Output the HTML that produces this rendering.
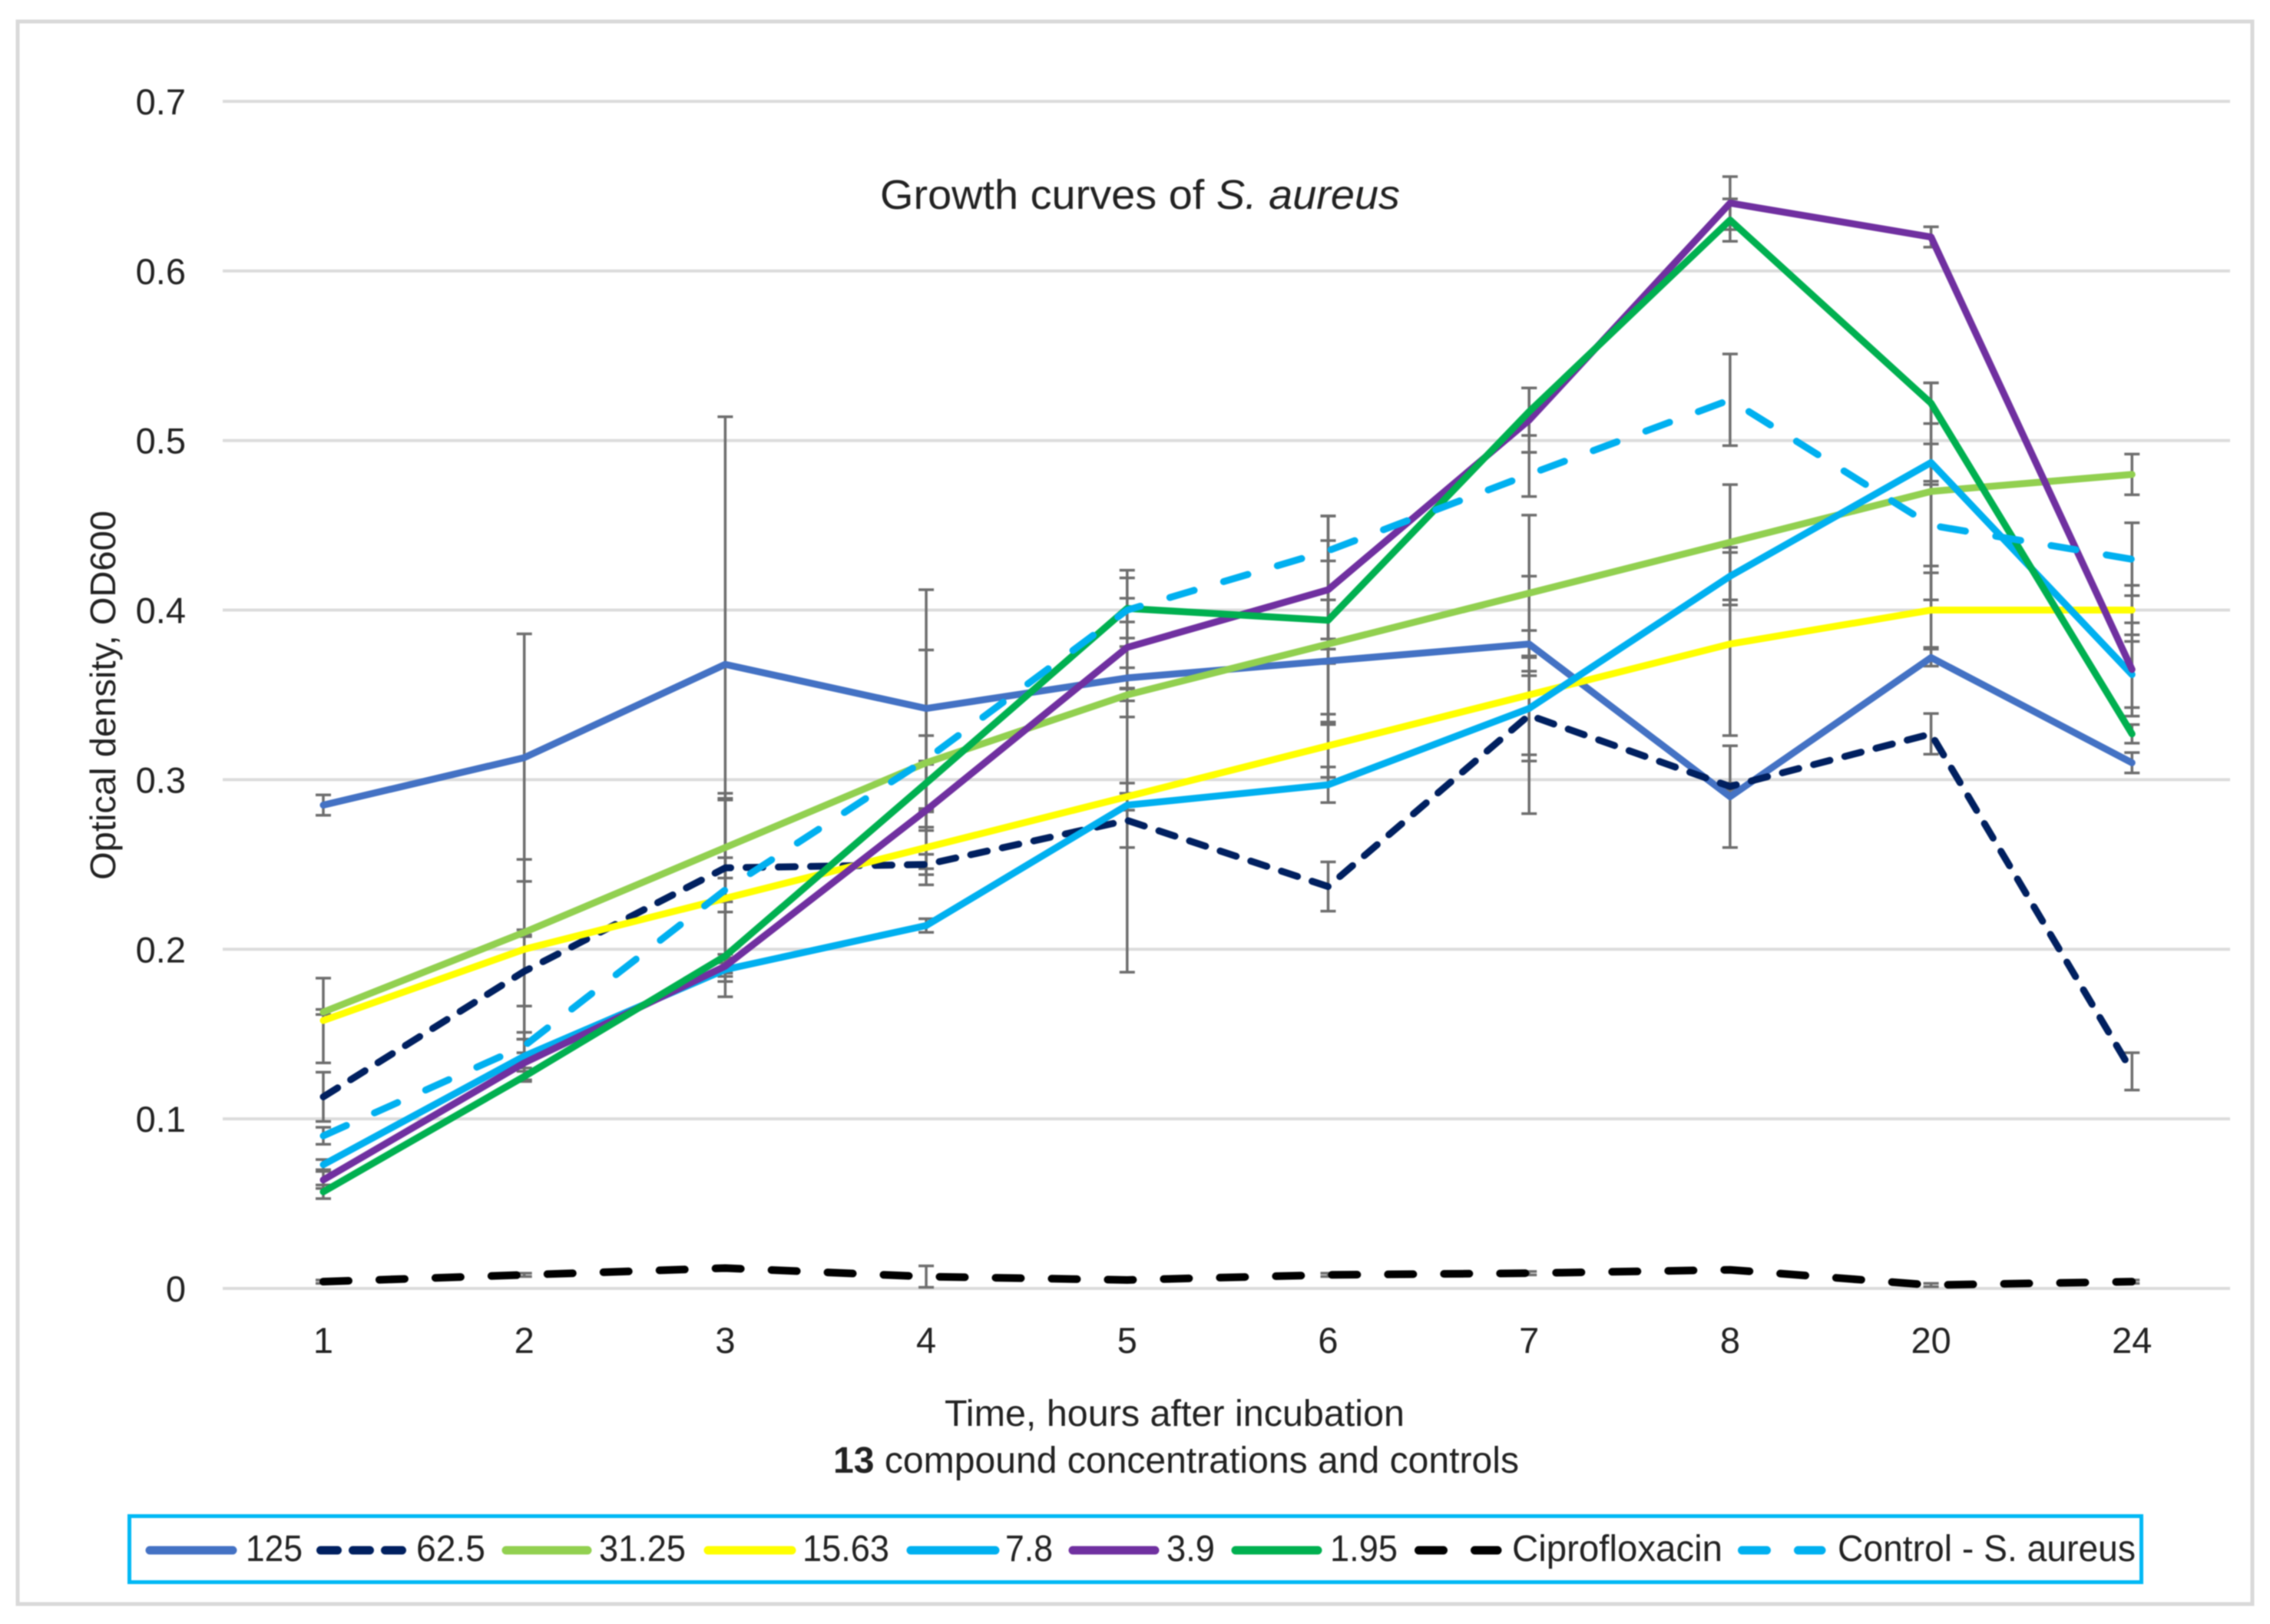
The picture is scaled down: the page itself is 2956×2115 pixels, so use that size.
<!DOCTYPE html>
<html lang="en">
<head>
<meta charset="utf-8">
<title>Growth curves of S. aureus</title>
<style>
html,body{margin:0;padding:0;background:#fff;}
body{width:2956px;height:2115px;overflow:hidden;}
svg{display:block;filter:blur(0.8px);}
text{font-family:"Liberation Sans",sans-serif;fill:#222;}
</style>
</head>
<body>
<svg id="chart" xmlns="http://www.w3.org/2000/svg" width="2956" height="2115" viewBox="0 0 2956 2115">
  <rect x="0" y="0" width="2956" height="2115" fill="#ffffff"/>
  <rect x="23" y="28" width="2910" height="2061" fill="#ffffff" stroke="#d9d9d9" stroke-width="5"/>
  <g id="grid"></g>
  <g id="yticks"></g>
  <g id="xticks"></g>
  <g id="errors"></g>
  <g id="lines"></g>
  <text x="1146" y="272" font-size="54" textLength="677" lengthAdjust="spacingAndGlyphs">Growth curves of <tspan font-style="italic">S. aureus</tspan></text>
  <text transform="translate(150,1146) rotate(-90)" x="0" y="0" font-size="46" textLength="481" lengthAdjust="spacingAndGlyphs">Optical density, OD600</text>
  <text x="1230" y="1857" font-size="48" textLength="599" lengthAdjust="spacingAndGlyphs">Time, hours after incubation</text>
  <text x="1085" y="1918" font-size="48" textLength="893" lengthAdjust="spacingAndGlyphs"><tspan font-weight="bold">13</tspan> compound concentrations and controls</text>

  <g>
    <rect x="168.5" y="1974.5" width="2620" height="86" fill="#ffffff" stroke="#00b8f5" stroke-width="5"/>
    <g>
      <line x1="195" y1="2019" x2="303" y2="2019" stroke="#4472c4" stroke-width="11" stroke-linecap="round"/>
      <text x="320" y="2033" font-size="48" textLength="74" lengthAdjust="spacingAndGlyphs">125</text>
    </g>
    <g>
      <line x1="417.5" y1="2019" x2="524" y2="2019" stroke="#002060" stroke-width="11" stroke-linecap="round" stroke-dasharray="22 20"/>
      <text x="542" y="2033" font-size="48" textLength="90" lengthAdjust="spacingAndGlyphs">62.5</text>
    </g>
    <g>
      <line x1="659" y1="2019" x2="765" y2="2019" stroke="#92d050" stroke-width="11" stroke-linecap="round"/>
      <text x="780" y="2033" font-size="48" textLength="113" lengthAdjust="spacingAndGlyphs">31.25</text>
    </g>
    <g>
      <line x1="922" y1="2019" x2="1031" y2="2019" stroke="#ffff00" stroke-width="11" stroke-linecap="round"/>
      <text x="1045" y="2033" font-size="48" textLength="113" lengthAdjust="spacingAndGlyphs">15.63</text>
    </g>
    <g>
      <line x1="1186" y1="2019" x2="1296" y2="2019" stroke="#00b0f0" stroke-width="11" stroke-linecap="round"/>
      <text x="1309" y="2033" font-size="48" textLength="62" lengthAdjust="spacingAndGlyphs">7.8</text>
    </g>
    <g>
      <line x1="1397" y1="2019" x2="1504" y2="2019" stroke="#7030a0" stroke-width="11" stroke-linecap="round"/>
      <text x="1519" y="2033" font-size="48" textLength="63" lengthAdjust="spacingAndGlyphs">3.9</text>
    </g>
    <g>
      <line x1="1609" y1="2019" x2="1716" y2="2019" stroke="#00b050" stroke-width="11" stroke-linecap="round"/>
      <text x="1732" y="2033" font-size="48" textLength="88" lengthAdjust="spacingAndGlyphs">1.95</text>
    </g>
    <g>
      <line x1="1847.5" y1="2019" x2="1950" y2="2019" stroke="#000000" stroke-width="11" stroke-linecap="round" stroke-dasharray="32 41"/>
      <text x="1969" y="2033" font-size="48" textLength="274" lengthAdjust="spacingAndGlyphs">Ciprofloxacin</text>
    </g>
    <g>
      <line x1="2268.5" y1="2019" x2="2372" y2="2019" stroke="#00b0f0" stroke-width="11" stroke-linecap="round" stroke-dasharray="32 41"/>
      <text x="2393" y="2033" font-size="48" textLength="388" lengthAdjust="spacingAndGlyphs">Control - S. aureus</text>
    </g>
  </g>
</svg>
<script>
const categories = ["1","2","3","4","5","6","7","8","20","24"];
const yTickValues = [0,0.1,0.2,0.3,0.4,0.5,0.6,0.7];
const yTickLabels = ["0","0.1","0.2","0.3","0.4","0.5","0.6","0.7"];

const values125 = [0.285,0.313,0.368,0.342,0.360,0.370,0.380,0.290,0.372,0.310];
const values62_5 = [0.113,0.187,0.248,0.250,0.276,0.237,0.338,0.296,0.327,0.128];
const values31_25 = [0.163,0.210,0.260,0.310,0.350,0.380,0.410,0.440,0.470,0.480];
const values15_63 = [0.158,0.200,0.230,0.260,0.290,0.320,0.350,0.380,0.400,0.400];
const values7_8 = [0.073,0.137,0.188,0.214,0.285,0.297,0.342,0.420,0.487,0.362];
const values3_9 = [0.064,0.133,0.190,0.282,0.378,0.412,0.512,0.640,0.620,0.365];
const values1_95 = [0.057,0.125,0.196,0.298,0.401,0.394,0.517,0.630,0.522,0.327];
const valuesCipro = [0.004,0.008,0.012,0.007,0.005,0.008,0.009,0.011,0.002,0.004];
const valuesControl = [0.090,0.143,0.235,0.312,0.400,0.435,0.480,0.524,0.450,0.430];

const errors125 = [0.006,0.073,0.146,0.070,0.006,0.036,0.008,0.030,0.005,0.006];
const errors62_5 = [0.0145,0.0205,0.006,0.006,0.016,0.0145,0.0233,0.002,0.012,0.011];
const errors31_25 = [0.0015,0.0015,0.032,0.001,0.0035,0.003,0.046,0.034,0.064,0.012];
const errors15_63 = [0.025,0.053,0.058,0.022,0.008,0.0186,0.070,0.054,0.022,0.0146];
const errors7_8 = [0.003,0.014,0.004,0.004,0.0985,0.0105,0.031,0.017,0.011,0.0195];
const errors3_9 = [0.005,0.003,0.004,0.001,0.041,0.0435,0.019,0.0156,0.006,0.0275];
const errors1_95 = [0.004,0.003,0.001,0.028,0.0225,0.0615,0.014,0.0125,0.012,0.0055];
const errorsCipro = [0.001,0.001,0.001,0.0063,0.001,0.001,0.001,0.001,0.001,0.001];
const errorsControl = [0.005,0.004,0.054,0.0645,0.007,0.006,0.013,0.027,0.024,0.0215];

const seriesNames = ["125","62-5","31-25","15-63","7-8","3-9","1-95","ciprofloxacin","control"];
const seriesValues = [values125,values62_5,values31_25,values15_63,values7_8,values3_9,values1_95,valuesCipro,valuesControl];
const seriesErrors = [errors125,errors62_5,errors31_25,errors15_63,errors7_8,errors3_9,errors1_95,errorsCipro,errorsControl];

const seriesColors = ["#4472c4","#002060","#92d050","#ffff00","#00b0f0","#7030a0","#00b050","#000000","#00b0f0"];
const seriesDashes = ["","22 20","","","","","","33 40","33 40"];
const seriesWidths = [9,9,9,9,9,9,9,10,9];

const NS = "http://www.w3.org/2000/svg";
function xScale(i){ return 421 + i * 261.7; }
function yScale(v){ return 1678 - v * 2208.6; }
function make(tag, attrs, parent){
  const el = document.createElementNS(NS, tag);
  for (const k in attrs) el.setAttribute(k, attrs[k]);
  parent.appendChild(el);
  return el;
}

const gridGroup = document.getElementById("grid");
const yGroup = document.getElementById("yticks");
const xGroup = document.getElementById("xticks");
const errGroup = document.getElementById("errors");
const lineGroup = document.getElementById("lines");

yTickValues.forEach(function(v, i){
  const g = make("line", {x1:290, x2:2904, y1:yScale(v), y2:yScale(v), stroke:"#dcdcdc", "stroke-width":4}, gridGroup);
  
  
  const t = make("text", {x:242, y:yScale(v)+17, "text-anchor":"end", "font-size":47}, yGroup);
  
  
  t.textContent = yTickLabels[i];
});

categories.forEach(function(c, i){
  const t = make("text", {x:xScale(i), y:1762, "text-anchor":"middle", "font-size":47}, xGroup);
  
  
  t.textContent = c;
});

seriesValues.forEach(function(vals, s){
  const errs = seriesErrors[s];
  vals.forEach(function(v, i){
    const x = xScale(i);
    const hi = yScale(v + errs[i]);
    const lo = yScale(v - errs[i]);
    const d = "M" + x + " " + hi + "V" + lo + "M" + (x-10) + " " + hi + "H" + (x+10) + "M" + (x-10) + " " + lo + "H" + (x+10);
    const p = make("path", {d:d, fill:"none", stroke:"#6e6e6e", "stroke-width":3.5}, errGroup);
    
    
  });
});

seriesValues.forEach(function(vals, s){
  const pts = vals.map(function(v, i){ return xScale(i) + "," + yScale(v); }).join(" ");
  const attrs = {points:pts, fill:"none", stroke:seriesColors[s], "stroke-width":seriesWidths[s], "stroke-linejoin":"round", "stroke-linecap":"round"};
  if (seriesDashes[s]) attrs["stroke-dasharray"] = seriesDashes[s];
  const l = make("polyline", attrs, lineGroup);
  
  
  l.setAttribute('data-series', seriesNames[s]);
});
</script>
</body>
</html>
